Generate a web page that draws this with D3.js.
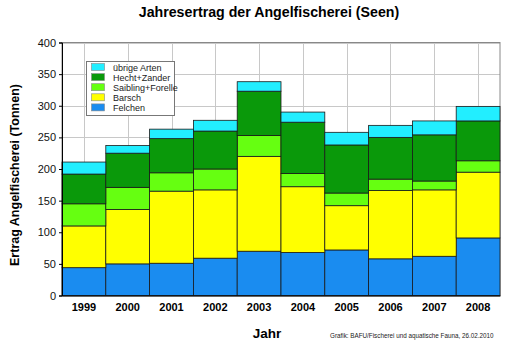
<!DOCTYPE html>
<html><head><meta charset="utf-8">
<script src="https://cdn.jsdelivr.net/npm/d3@7"></script>
<style>body{margin:0;background:#fff}svg{display:block}text{font-family:Arial,"Liberation Sans",sans-serif}</style>
</head><body><svg id="c" width="515" height="348"></svg>
<script>
const years = ["1999","2000","2001","2002","2003","2004","2005","2006","2007","2008"];
const felchen  = [44, 50, 51, 59, 70, 68, 72, 58, 62, 91];
const barsch   = [66, 86, 114, 108, 150, 104, 70, 108, 105, 104];
const saibling = [35, 35, 29, 33, 33, 21, 20, 18, 14, 18];
const hecht    = [47, 54, 54, 60, 70, 81, 76, 66, 73, 63];
const uebrige  = [19, 12, 15, 17, 15, 16, 20, 19, 22, 23];
const seriesNames = ["Felchen","Barsch","Saibling+Forelle","Hecht+Zander","übrige Arten"];
const seriesColors = ["#1a8cf0","#ffff00","#66ff11","#0a990a","#22eeff"];
const yTicks = [0,50,100,150,200,250,300,350,400];

const svg = d3.select("#c");
const L=62, R=500, T=42.5, B=295.5;
const x = d3.scaleBand().domain(years).range([L,R]).padding(0);
const y = d3.scaleLinear().domain([0,400]).range([B,T]);

const rows = years.map((yr,i)=>({year:yr, s0:felchen[i], s1:barsch[i], s2:saibling[i], s3:hecht[i], s4:uebrige[i]}));
const stack = d3.stack().keys(["s0","s1","s2","s3","s4"])(rows);

// grid
const g = svg.append("g");
g.selectAll(".hg").data(yTicks).join("line")
  .attr("x1",L).attr("x2",R).attr("y1",d=>Math.round(y(d))+0.5).attr("y2",d=>Math.round(y(d))+0.5)
  .attr("stroke","#c8c8c8").attr("stroke-width",1);
g.selectAll(".vg").data(years).join("line")
  .attr("x1",d=>Math.round(x(d)+x.bandwidth()/2)+0.5).attr("x2",d=>Math.round(x(d)+x.bandwidth()/2)+0.5)
  .attr("y1",T).attr("y2",B).attr("stroke","#c8c8c8").attr("stroke-width",1);
// frame
svg.append("rect").attr("x",L).attr("y",T).attr("width",R-L).attr("height",B-T)
  .attr("fill","none").attr("stroke","#888").attr("stroke-width",1);

// bars
stack.forEach((layer,k)=>{
  svg.append("g").selectAll("rect").data(layer).join("rect")
    .attr("x",d=>x(d.data.year)).attr("width",x.bandwidth())
    .attr("y",d=>y(d[1])).attr("height",d=>y(d[0])-y(d[1]))
    .attr("fill",seriesColors[k]).attr("stroke","#1a1a1a").attr("stroke-width",0.8);
});

// axes
const ya = svg.append("g").attr("transform",`translate(${L},0)`)
  .call(d3.axisLeft(y).tickValues(yTicks).tickSize(3).tickPadding(3));
ya.select(".domain").attr("stroke","#000");
ya.selectAll("text").attr("font-size",11).attr("fill","#111").style("font-family","Arial, 'Liberation Sans', sans-serif");
const xa = svg.append("g").attr("transform",`translate(0,${B})`)
  .call(d3.axisBottom(x).tickSize(0).tickPadding(8));
xa.select(".domain").attr("stroke","#000");
xa.selectAll("text").attr("font-size",11).attr("font-weight","bold").attr("fill","#000").style("font-family","Arial, 'Liberation Sans', sans-serif");

// titles
svg.append("text").attr("x",269).attr("y",17).attr("text-anchor","middle")
  .attr("font-size",14.2).attr("font-weight","bold").text("Jahresertrag der Angelfischerei (Seen)");
svg.append("text").attr("transform","translate(19,175) rotate(-90)").attr("text-anchor","middle")
  .attr("font-size",12.5).attr("font-weight","bold").text("Ertrag Angelfischerei (Tonnen)");
svg.append("text").attr("x",267).attr("y",338).attr("text-anchor","middle")
  .attr("font-size",13.5).attr("font-weight","bold").text("Jahr");
svg.append("text").attr("x",330).attr("y",338)
  .attr("font-size",6.3).attr("fill","#222").text("Grafik: BAFU/Fischerei und aquatische Fauna, 26.02.2010");

// legend
const lg = svg.append("g");
lg.append("rect").attr("x",86.5).attr("y",61.5).attr("width",88).attr("height",54)
  .attr("fill","#fff").attr("stroke","#777");
const order = [4,3,2,1,0];
order.forEach((k,i)=>{
  lg.append("rect").attr("x",91.5).attr("y",63.5+i*10.1).attr("width",13).attr("height",7)
    .attr("fill",seriesColors[k]).attr("stroke","#888").attr("stroke-width",0.6);
  lg.append("text").attr("x",113).attr("y",70.5+i*10.1).attr("font-size",9).attr("fill","#222").text(seriesNames[k]);
});
</script></body></html>
